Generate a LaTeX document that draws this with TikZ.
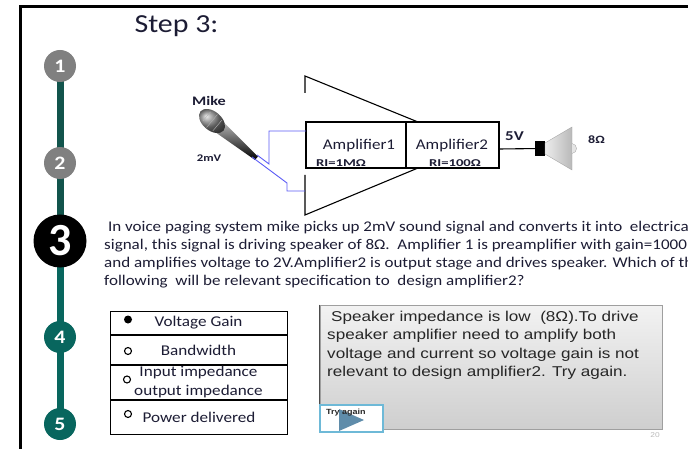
\documentclass[tikz,border=0pt]{standalone}
\usepackage{fontspec}
\setmainfont{Carlito}
\newfontfamily\calA[FakeStretch=1.15]{Carlito}
\newfontfamily\calB[FakeStretch=1.4]{Carlito}
\newfontfamily\calC[FakeStretch=1.25]{Carlito}
\newfontfamily\arialwide[FakeStretch=1.2]{Liberation Sans}
\usetikzlibrary{shapes.geometric}

\definecolor{tealdark}{RGB}{18,84,76}
\definecolor{tealmid}{RGB}{8,102,94}
\definecolor{stepgray}{RGB}{128,128,128}
\definecolor{wireblue}{RGB}{90,90,245}
\definecolor{ink}{RGB}{28,28,52}
\definecolor{btnblue}{RGB}{110,185,215}
\definecolor{playblue}{RGB}{95,140,170}

\tikzset{
  stepdot/.style={circle, minimum size=32pt, inner sep=0pt, text=white,
    font=\calA\fontsize{19}{19}\selectfont\bfseries},
  ampbox/.style={draw, line width=1.1pt, minimum height=46pt, inner sep=0pt, fill=white},
  amptext/.style={font=\calA\fontsize{14.8}{16}\selectfont, text=ink},
  ritext/.style={font=\calB\fontsize{10.5}{11}\selectfont\bfseries, text=ink},
  smalllabel/.style={text=ink},
  optrow/.style={draw, line width=0.9pt, minimum width=177pt, inner sep=0pt, fill=white},
  opttext/.style={font=\calA\fontsize{14.9}{16}\selectfont, text=ink},
  bodyline/.style={anchor=base west, inner sep=0pt, font=\calA\fontsize{14.8}{17}\selectfont, text=ink},
  fbline/.style={anchor=base west, inner sep=0pt, font=\arialwide\fontsize{14.25}{17}\selectfont, text=black!85},
  wire/.style={wireblue, line width=0.9pt},
}

\begin{document}
\begin{tikzpicture}[x=1pt, y=-1pt]
\useasboundingbox (0,0) rectangle (688,449);
\clip (0,0) rectangle (688,449);

% page frame
\draw[line width=3pt] (20,449) -- (20,7) -- (688,7);

% title
\node[font=\calA\fontsize{26}{30}\selectfont, text=ink] (title) at (176.5,26) {Step 3:};

% progress line with step markers
\draw[tealdark, line width=7pt] (60,66) -- (60,241);
\draw[tealmid, line width=7pt] (60,241) -- (60,424);
\node[stepdot, fill=stepgray] (s1) at (60,66) {1};
\node[stepdot, fill=stepgray] (s2) at (60,163) {2};
\node[circle, minimum size=53pt, inner sep=0pt, fill=black, text=white,
      font=\fontsize{46}{46}\selectfont\bfseries] (s3) at (60,241) {3};
\node[stepdot, fill=tealmid] (s4) at (60,337) {4};
\node[stepdot, fill=tealmid] (s5) at (60,424) {5};

% microphone
\node[smalllabel, font=\calC\fontsize{13}{14}\selectfont\bfseries] (mike) at (209,101) {Mike};
\node[smalllabel, font=\calC\fontsize{10.2}{11}\selectfont\bfseries] (mv) at (209,158) {2mV};
\begin{scope}[shift={(212,121)}, rotate=-40]
  \shade[top color=gray!55, bottom color=black] (9,-6.5) -- (58,-2.2) -- (58,2.2) -- (9,6.5) -- cycle;
  \shade[ball color=black!50] (0,0) ellipse [x radius=15, y radius=9.5];
  \draw[white!70!black, line width=0.4pt] (-7,-6) -- (-7,6) (0,-8.5) -- (0,8.5) (7,-7) -- (7,7);
\end{scope}
\coordinate (tipA) at (257,155);
\coordinate (tipB) at (252,157);

% amplifier body
\draw[line width=1.1pt] (305,93) -- (305,76) -- (418,122);
\draw[line width=1.1pt] (418,168) -- (305,215) -- (305,175);
\node[ampbox, minimum width=100pt] (amp1) at (356,145) {};
\node[ampbox, minimum width=93pt] (amp2) at (452.5,145) {};
\node[amptext] (a1t) at (359,146) {Amplifier1};
\node[ritext] (a1r) at (341,163) {RI=1MΩ};
\node[amptext] (a2t) at (452,146) {Amplifier2};
\node[ritext] (a2r) at (455,163) {RI=100Ω};

% input wiring
\coordinate (in1) at (306,131);
\coordinate (in2) at (305,191);
\draw[wire] (tipA) -- (269,164) -- (269,131) -- (in1);
\draw[wire] (tipB) -- (287,183) -- (287,191) -- (in2);

% speaker
\coordinate (out) at (499,149);
\node[fill=black, minimum width=10pt, minimum height=15pt, inner sep=0pt] (magnet) at (540,148.5) {};
\draw[line width=1.1pt] (out) -- (magnet);
\shade[left color=gray!15, right color=gray!55, draw=gray!70] (545,143) -- (572,127) -- (572,170) -- (545,154) -- cycle;
\draw[gray!70, fill=gray!20] (572,143.5) .. controls (578,144) and (578,153) .. (572,153.5);
\node[smalllabel, font=\calC\fontsize{13.5}{14}\selectfont\bfseries] (v5) at (514.5,136) {5V};
\node[smalllabel, font=\calC\fontsize{11.2}{12}\selectfont\bfseries] (ohm) at (596.5,140) {8Ω};

% question text
\node[bodyline] (q1) at (104,232) {\ In voice paging system mike picks up 2mV sound signal and converts it into \ electrical};
\node[bodyline] (q2) at (104,249.5) {signal, this signal is driving speaker of 8Ω. \ Amplifier 1 is preamplifier with gain=1000};
\node[bodyline] (q3) at (104,267) {and amplifies voltage to 2V.Amplifier2 is output stage and drives speaker. Which of the};
\node[bodyline] (q4) at (104,285) {following \ will be relevant specification to \ design amplifier2?};

% answer options
\node[optrow, minimum height=23pt] (o1) at (198.5,322.5) {};
\node[optrow, minimum height=29pt] (o2) at (198.5,349.5) {};
\node[optrow, minimum height=34pt] (o3) at (198.5,382) {};
\node[optrow, minimum height=34pt] (o4) at (198.5,417) {};
\node[circle, fill=black, minimum size=8pt, inner sep=0pt] (r1) at (128,319.5) {};
\node[circle, draw, line width=1.1pt, minimum size=7pt, inner sep=0pt] (r2) at (128,351) {};
\node[circle, draw, line width=1.1pt, minimum size=7pt, inner sep=0pt] (r3) at (127,379.5) {};
\node[circle, draw, line width=1.1pt, minimum size=7pt, inner sep=0pt] (r4) at (128,414) {};
\node[opttext] (t1) at (198.5,323) {Voltage Gain};
\node[opttext] (t2) at (198.5,350) {Bandwidth};
\node[opttext] (t3a) at (198.5,373) {Input impedance};
\node[opttext] (t3b) at (198.5,392) {output impedance};
\node[opttext] (t4) at (199,417) {Power delivered};

% feedback panel
\node[draw=gray!75, line width=1pt, top color=gray!10, bottom color=gray!38,
      minimum width=342pt, minimum height=124pt, inner sep=0pt] (fb) at (491,367) {};
\draw[black!70, line width=1.2pt] (fb.north west) -- (fb.south west);
\node[fbline] (f1) at (331,321) {Speaker impedance is low \ (8Ω).To drive};
\node[fbline] (f2) at (327,339.5) {speaker amplifier need to amplify both};
\node[fbline] (f3) at (327,358) {voltage and current so voltage gain is not};
\node[fbline] (f4) at (327,376.5) {relevant to design amplifier2. Try again.};

% try-again button
\node[draw=btnblue, line width=1.3pt, fill=white, minimum width=63pt, minimum height=27pt, inner sep=0pt] (btn) at (351.5,418.5) {};
\fill[playblue] (339,409) -- (364,420) -- (339,431) -- cycle;
\node[anchor=base west, inner sep=0pt, font=\arialwide\fontsize{7.5}{8}\selectfont\bfseries, text=black!85] (btnt) at (326,414) {Try again};

% page number
\node[font=\arialwide\fontsize{7}{8}\selectfont, text=gray!55] (pg) at (655,435) {20};
\end{tikzpicture}
\end{document}
